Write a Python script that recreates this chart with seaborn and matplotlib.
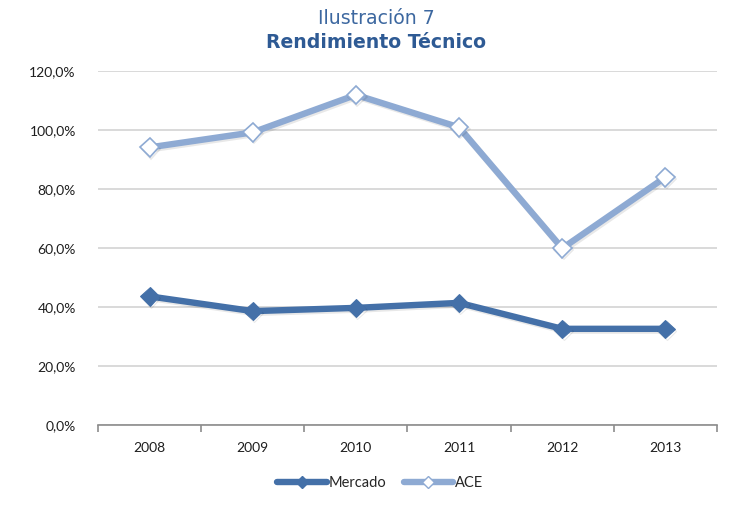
import matplotlib
matplotlib.use("Agg")
import matplotlib.pyplot as plt
import matplotlib.patheffects as pe
from matplotlib.lines import Line2D
from matplotlib.ticker import FixedLocator, FuncFormatter
import seaborn as sns
import pandas as pd

years = ["2008", "2009", "2010", "2011", "2012", "2013"]
mercado = [43.6, 38.6, 39.7, 41.4, 32.6, 32.6]
ace = [94.1, 99.2, 111.9, 100.9, 59.9, 84.0]
series_names = ["Mercado", "ACE"]
yticks = [0, 20, 40, 60, 80, 100, 120]

sns.set_theme(style="white")
plt.rcParams["font.family"] = ["Lato", "DejaVu Sans"]

c_merc = "#4470a8"
c_ace = "#8eaad3"

fig = plt.figure(figsize=(7.51, 5.16), dpi=100)
ax = fig.add_axes([98/751, 1-425/516, (717-98)/751, (425-71)/516])

pos = list(range(len(years)))
df_m = pd.DataFrame({"x": pos, "v": mercado})
df_a = pd.DataFrame({"x": pos, "v": ace})

shadow = [pe.SimpleLineShadow(offset=(1.0, -1.3), alpha=0.09, shadow_color="black"), pe.Normal()]

sns.lineplot(data=df_m, x="x", y="v", ax=ax, color=c_merc, linewidth=4.6,
             marker="D", markersize=9.5, markerfacecolor=c_merc, markeredgecolor=c_merc,
             zorder=3, path_effects=shadow)
sns.lineplot(data=df_a, x="x", y="v", ax=ax, color=c_ace, linewidth=4.6,
             marker="D", markersize=9.5, markerfacecolor="white", markeredgecolor=c_ace,
             markeredgewidth=1.2, zorder=4, path_effects=shadow)

ax.set_xlim(-0.5, len(years) - 0.5)
ax.set_ylim(0, 120)
ax.set_xlabel("")
ax.set_ylabel("")

ax.xaxis.set_major_locator(FixedLocator(pos))
ax.set_xticklabels(years)
ax.xaxis.set_minor_locator(FixedLocator([p - 0.5 for p in pos] + [len(years) - 0.5]))
ax.tick_params(axis="x", which="major", length=0, pad=12, labelsize=10, labelcolor="#1e1e1e")
ax.tick_params(axis="x", which="minor", length=5, width=1.2, color="#8c8c8c", direction="out", bottom=True)

ax.yaxis.set_major_locator(FixedLocator(yticks))
ax.yaxis.set_major_formatter(FuncFormatter(lambda v, p: f"{v:.1f}%".replace(".", ",")))
ax.tick_params(axis="y", length=0, pad=16, labelsize=10, labelcolor="#1e1e1e")

ax.grid(axis="y", color="#cfcfcf", linewidth=1.1)
ax.grid(axis="x", visible=False)
for s in ["top", "right", "left"]:
    ax.spines[s].set_visible(False)
ax.spines["bottom"].set_color("#8c8c8c")
ax.spines["bottom"].set_linewidth(1.2)
ax.set_axisbelow(True)

fig.text(376/751, 1-19/516, "Ilustración 7", ha="center", va="center",
         fontsize=13.6, color="#3d68a0", family="DejaVu Sans")
fig.text(376/751, 1-43/516, "Rendimiento Técnico", ha="center", va="center",
         fontsize=13.6, fontweight="bold", color="#2e5a94", family="DejaVu Sans")

handles = [
    Line2D([0], [0], color=c_merc, lw=4.6, marker="D", markersize=6,
           markerfacecolor=c_merc, markeredgecolor=c_merc),
    Line2D([0], [0], color=c_ace, lw=4.6, marker="D", markersize=6,
           markerfacecolor="white", markeredgecolor=c_ace),
]
fig.legend(handles, series_names, loc="center", bbox_to_anchor=(380/751, 1-483/516),
           ncol=2, frameon=False, fontsize=10.5, handlelength=3.4, handletextpad=0.1,
           columnspacing=1.2)

fig.savefig("out.png", dpi=100, facecolor="white")
